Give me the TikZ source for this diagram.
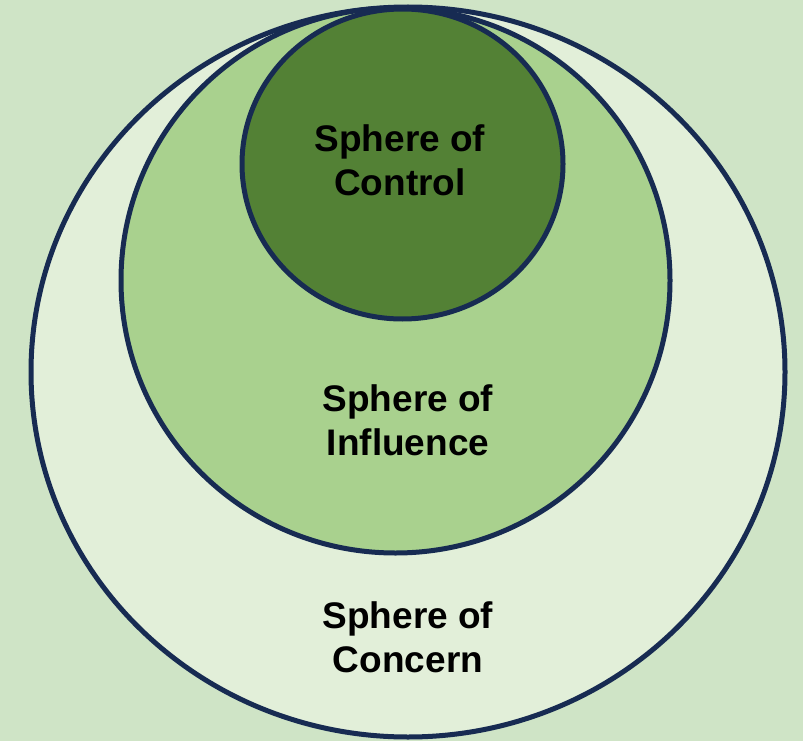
\documentclass[tikz,border=0pt]{standalone}
\usepackage{fontspec}
\setmainfont{Liberation Sans}
\usepackage{tikz}
\usetikzlibrary{positioning}

\definecolor{bgGreen}{HTML}{CFE4C6}
\definecolor{concernGreen}{HTML}{E2EFD9}
\definecolor{influenceGreen}{HTML}{A9D18E}
\definecolor{controlGreen}{HTML}{538135}
\definecolor{rimNavy}{HTML}{172B52}

\begin{document}
\begin{tikzpicture}[x=1pt, y=-1pt, line cap=round, line join=round]
  \tikzset{
    sphere/.style={draw=rimNavy, line width=5pt},
    spherelabel/.style={font=\fontsize{37}{44}\selectfont\bfseries, align=center, text=black}
  }
  %--- background
    \fill[bgGreen] (0, 0) rectangle (803, 741) ;
    \useasboundingbox (0, 0) rectangle (803, 741) ;
  %--- Sphere of Concern
    \draw[sphere, fill=concernGreen] (408, 372) ellipse [x radius=377pt, y radius=365pt] ;
  %--- Sphere of Influence
    \draw[sphere, fill=influenceGreen] (395.5, 280.5) ellipse [x radius=274.5pt, y radius=272.5pt] ;
  %--- Sphere of Control
    \draw[sphere, fill=controlGreen] (402.5, 164) ellipse [x radius=160.5pt, y radius=155pt] ;
  %--- labels
    \node[spherelabel] (control) at (400, 160) {Sphere of\\Control};
    \node[spherelabel] (influence) at (408, 420) {Sphere of\\Influence};
    \node[spherelabel] (concern) at (408, 637) {Sphere of\\Concern};
\end{tikzpicture}
\end{document}
